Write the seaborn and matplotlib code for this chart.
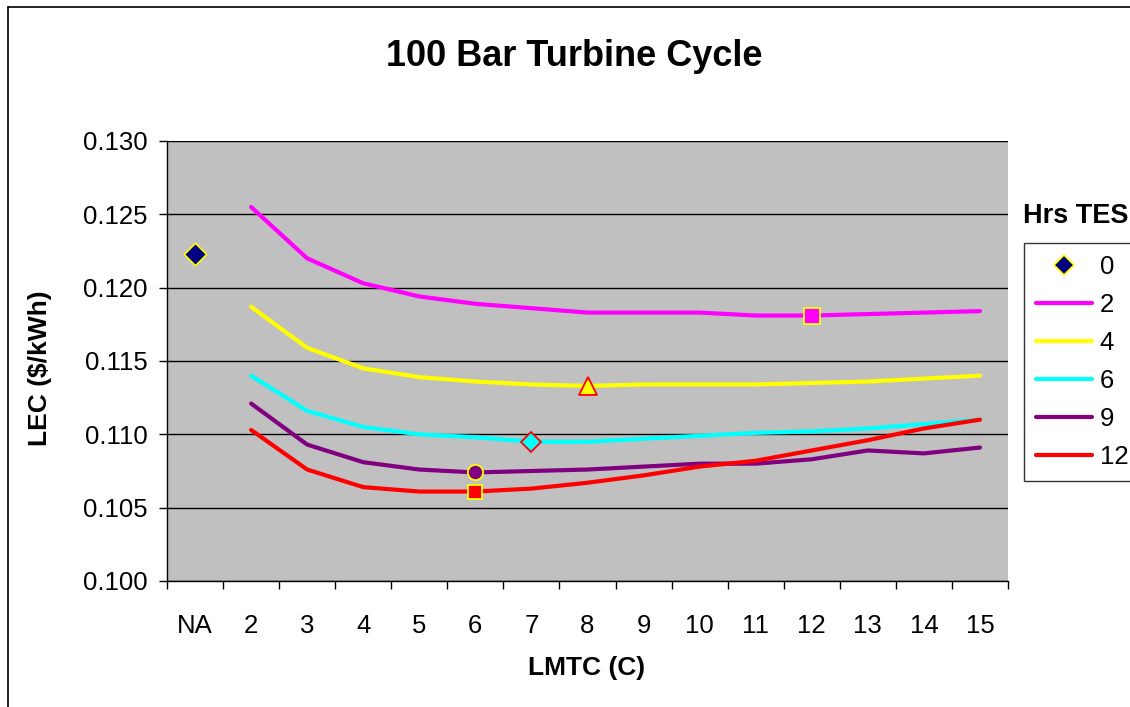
import pandas as pd
import matplotlib
matplotlib.use("Agg")
import matplotlib.pyplot as plt
import seaborn as sns
from matplotlib.lines import Line2D

# Data
categories = ["NA", "2", "3", "4", "5", "6", "7", "8", "9", "10", "11", "12", "13", "14", "15"]
lmtc = categories[1:]

tes_0 = [0.1223]  # only at NA
tes_2 = [0.1255, 0.1220, 0.1203, 0.1194, 0.1189, 0.1186, 0.1183, 0.1183, 0.1183, 0.1181, 0.1181, 0.1182, 0.1183, 0.1184]
tes_4 = [0.1187, 0.1159, 0.1145, 0.1139, 0.1136, 0.1134, 0.1133, 0.1134, 0.1134, 0.1134, 0.1135, 0.1136, 0.1138, 0.1140]
tes_6 = [0.1140, 0.1116, 0.1105, 0.1100, 0.1098, 0.1095, 0.1095, 0.1097, 0.1099, 0.1101, 0.1102, 0.1104, 0.1107, 0.1110]
tes_9 = [0.1121, 0.1093, 0.1081, 0.1076, 0.1074, 0.1075, 0.1076, 0.1078, 0.1080, 0.1080, 0.1083, 0.1089, 0.1087, 0.1091]
tes_12 = [0.1103, 0.1076, 0.1064, 0.1061, 0.1061, 0.1063, 0.1067, 0.1072, 0.1078, 0.1082, 0.1089, 0.1096, 0.1104, 0.1110]

series_labels = ["2", "4", "6", "9", "12"]
series_values = [tes_2, tes_4, tes_6, tes_9, tes_12]
# LMTC at the optimum point highlighted on each curve
optimum_lmtc = ["12", "8", "7", "6", "6"]

colors = {"0": "#000080", "2": "#FF00FF", "4": "#FFFF00", "6": "#00FFFF", "9": "#800080", "12": "#FF0000"}
opt_style = {
    "2": dict(marker="s", ms=11, mfc="#FF00FF", mec="#FFFF00"),
    "4": dict(marker="^", ms=13, mfc="#FFFF00", mec="#FF0000"),
    "6": dict(marker="D", ms=10.5, mfc="#00FFFF", mec="#FF0000"),
    "9": dict(marker="o", ms=11, mfc="#800080", mec="#FFFF00"),
    "12": dict(marker="s", ms=10, mfc="#FF0000", mec="#FFFF00"),
}

pos = {c: i for i, c in enumerate(categories)}

rows = []
for lab, vals in zip(series_labels, series_values):
    for c, v in zip(lmtc, vals):
        rows.append({"tes": lab, "lmtc": c, "x": pos[c], "lec": v})
df = pd.DataFrame(rows)
df0 = pd.DataFrame({"x": [pos["NA"]], "lec": tes_0})

sns.set_theme(style="white")
plt.rcParams["font.family"] = ["Liberation Sans", "DejaVu Sans"]
plt.rcParams["text.color"] = "black"
plt.rcParams["xtick.color"] = "black"
plt.rcParams["ytick.color"] = "black"

fig = plt.figure(figsize=(11.3, 7.07), dpi=100)
ax = fig.add_axes([167 / 1130, 1 - 581 / 707, (1008 - 167) / 1130, (581 - 141) / 707])
ax.set_facecolor("#C0C0C0")

sns.lineplot(data=df, x="x", y="lec", hue="tes", palette=colors, hue_order=series_labels,
             lw=3, legend=False, ax=ax, zorder=3)
sns.scatterplot(data=df0, x="x", y="lec", marker="D", s=130, color=colors["0"],
                edgecolor="#FFFF00", linewidth=1.2, ax=ax, zorder=4)

for lab, vals, opt in zip(series_labels, series_values, optimum_lmtc):
    st = opt_style[lab]
    ax.plot(pos[opt], vals[lmtc.index(opt)], ls="none", mew=1.3, zorder=5, **st)

ax.set_xlim(-0.5, len(categories) - 0.5)
ax.set_ylim(0.100, 0.130)
ax.set_yticks([0.100, 0.105, 0.110, 0.115, 0.120, 0.125, 0.130])
ax.set_yticklabels([f"{v:.3f}" for v in ax.get_yticks()])
ax.yaxis.grid(True, color="black", lw=1)
ax.set_axisbelow(True)

# category labels at centers, tick marks at boundaries
ax.set_xticks([i - 0.5 for i in range(len(categories) + 1)])
ax.set_xticklabels([])
ax.set_xticks(range(len(categories)), minor=True)
ax.set_xticklabels(categories, minor=True)
ax.tick_params(axis="x", which="major", length=6, width=1, color="black", direction="out", bottom=True)
ax.tick_params(axis="x", which="minor", length=0, labelsize=18.5, pad=24, bottom=True)
ax.tick_params(axis="y", length=6, width=1, color="black", direction="out", labelsize=18.5, pad=8, left=True)
ax.set_xlabel("")
ax.set_ylabel("")

for s in ["top", "right"]:
    ax.spines[s].set_visible(False)
for s in ["left", "bottom"]:
    ax.spines[s].set_color("black")
    ax.spines[s].set_linewidth(1)

fig.text(574 / 1130, 1 - 57 / 707, "100 Bar Turbine Cycle", ha="center", va="center",
         fontsize=26, fontweight="bold")
fig.text(40 / 1130, 1 - 368 / 707, "LEC ($/kWh)", rotation=90, ha="center", va="center",
         fontsize=19, fontweight="bold")
fig.text(587 / 1130, 1 - 668 / 707, "LMTC (C)", ha="center", va="center",
         fontsize=19, fontweight="bold")
fig.text(1023 / 1130, 1 - 216 / 707, "Hrs TES", ha="left", va="center",
         fontsize=19.5, fontweight="bold")

handles = [Line2D([], [], ls="none", marker="D", ms=10, mfc=colors["0"], mec="#FFFF00", mew=1.2)]
handles += [Line2D([], [], color=colors[l], lw=3) for l in series_labels]
leg = fig.legend(handles, ["0"] + series_labels, loc="upper left",
                 bbox_to_anchor=(1024 / 1130, 1 - 243 / 707), fontsize=18.5,
                 frameon=True, fancybox=False, shadow=False, handlelength=2.2,
                 labelspacing=0.55, borderpad=0.45, handletextpad=0.3, borderaxespad=0)
leg.get_frame().set_edgecolor("black")
leg.get_frame().set_linewidth(1)

# outer chart border (left and top visible)
fig.add_artist(Line2D([8 / 1130, 8 / 1130], [-0.1, 1 - 7 / 707], color="black", lw=1.2,
                      transform=fig.transFigure))
fig.add_artist(Line2D([8 / 1130, 1.1], [1 - 7 / 707, 1 - 7 / 707], color="black", lw=1.2,
                      transform=fig.transFigure))

plt.savefig("out.png", dpi=100)
plt.close()
